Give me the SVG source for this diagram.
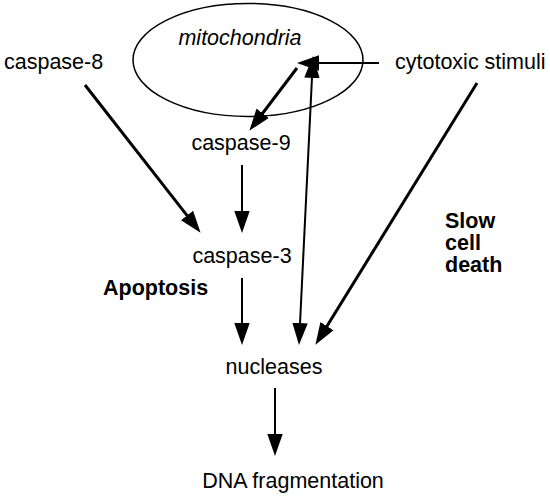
<svg xmlns="http://www.w3.org/2000/svg" width="550" height="496" viewBox="0 0 550 496">
<style>
text{font-family:"Liberation Sans",Arial,sans-serif;font-size:21.5px;fill:#000}
.b{font-weight:bold}
.i{font-style:italic}
.c{stroke:#000;fill:none}
.thin{stroke-width:2}
.thick{stroke-width:3}
</style>
<defs>
<marker id="ah" markerUnits="userSpaceOnUse" markerWidth="22" markerHeight="16" viewBox="0 0 20 14" refX="10" refY="7" orient="auto-start-reverse">
<path d="M0,0 L20,7 L0,14 z" fill="#000"/>
</marker>
</defs>
<rect width="550" height="496" fill="#fff"/>
<g id="mitochondria">
<ellipse cx="248" cy="60" rx="115" ry="56.5" fill="none" stroke="#000" stroke-width="1.5"/>
<text class="i" x="240" y="45" text-anchor="middle">mitochondria</text>
</g>
<g id="caspase-8"><text x="4" y="69">caspase-8</text></g>
<g id="cytotoxic"><text x="395" y="69">cytotoxic stimuli</text></g>
<g id="caspase-9"><text x="241" y="150" text-anchor="middle">caspase-9</text></g>
<g id="caspase-3"><text x="242" y="263" text-anchor="middle">caspase-3</text></g>
<g id="apoptosis"><text class="b" x="103" y="295">Apoptosis</text></g>
<g id="slow"><text class="b" x="445" y="228">Slow</text><text class="b" x="445" y="250">cell</text><text class="b" x="445" y="272">death</text></g>
<g id="nucleases"><text x="274" y="374" text-anchor="middle">nucleases</text></g>
<g id="dna"><text x="293" y="488" text-anchor="middle">DNA fragmentation</text></g>
<g id="connectors">
<line class="c thin" x1="379" y1="63" x2="308" y2="63" marker-end="url(#ah)"/>
<line class="c thick" x1="297" y1="68" x2="256" y2="122" marker-end="url(#ah)"/>
<line class="c thin" x1="312.5" y1="67" x2="299.5" y2="334" marker-start="url(#ah)" marker-end="url(#ah)"/>
<line class="c thick" x1="85" y1="85" x2="193.8" y2="224.1" marker-end="url(#ah)"/>
<line class="c thin" x1="242" y1="165" x2="242" y2="222" marker-end="url(#ah)"/>
<line class="c thin" x1="242" y1="278" x2="242" y2="334" marker-end="url(#ah)"/>
<line class="c thick" x1="477" y1="83" x2="321.2" y2="335.5" marker-end="url(#ah)"/>
<line class="c thin" x1="275" y1="388" x2="275" y2="445" marker-end="url(#ah)"/>
</g>
</svg>
